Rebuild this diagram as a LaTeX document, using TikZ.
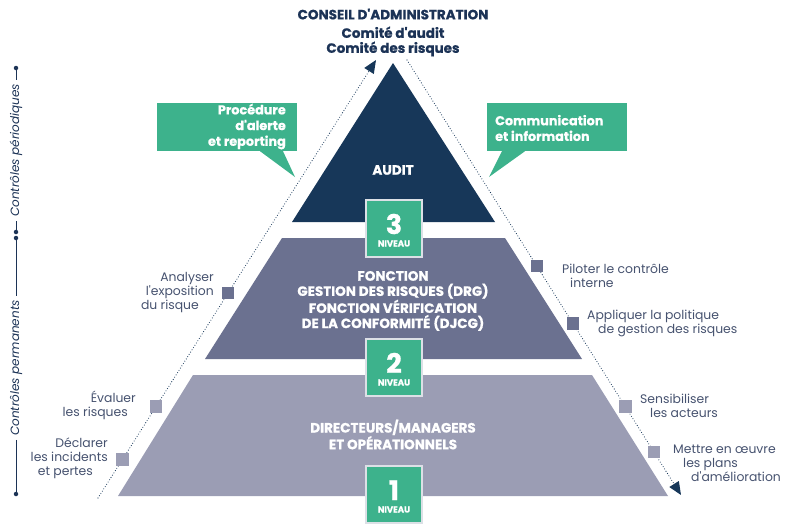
\documentclass[tikz,border=0pt]{standalone}
\usepackage{fontspec}
\setmainfont{Poppins}[BoldFeatures={FakeBold=0.8}]
\usetikzlibrary{arrows.meta}

\definecolor{navy}{HTML}{173759}
\definecolor{titlenavy}{HTML}{1C3356}
\definecolor{slate}{HTML}{6B7190}
\definecolor{lilac}{HTML}{9B9DB4}
\definecolor{jade}{HTML}{3DB28C}
\definecolor{labelgray}{HTML}{46526F}
\definecolor{boxedge}{HTML}{DCE0E6}

% straight apostrophe
\newcommand{\apos}{\textquotesingle}

\begin{document}
\begin{tikzpicture}[x=1pt,y=-1pt,
  title/.style={font=\fontsize{13.5}{15}\selectfont\bfseries, text=titlenavy, align=center, inner sep=0pt},
  tiertext/.style={font=\fontsize{13.5}{15.2}\selectfont\bfseries, text=white, align=center, inner sep=0pt},
  bubble/.style={fill=jade, minimum width=140pt, minimum height=48pt, inner sep=0pt},
  bubbletext/.style={font=\fontsize{12.8}{15.7}\selectfont\bfseries, text=white, inner sep=0pt},
  levelbox/.style={fill=jade, draw=boxedge, line width=1.2pt, minimum width=56pt, minimum height=57pt, inner sep=0pt},
  levelnum/.style={font=\fontsize{27}{27}\selectfont\bfseries, text=white, inner sep=0pt, text height=19pt, text depth=0pt},
  levelword/.style={font=\fontsize{8.6}{9}\selectfont\bfseries, text=white, inner sep=0pt, text height=6pt, text depth=0pt},
  conn/.style={draw=navy, line width=1.1pt, line cap=round, dash pattern=on 0pt off 2.7pt,
    -{Triangle[length=13pt,width=11pt]}},
  darkmark/.style={fill=slate, minimum size=12.5pt, inner sep=0pt},
  lightmark/.style={fill=lilac, minimum size=12.5pt, inner sep=0pt},
  steplabel/.style={font=\fontsize{12.4}{14}\selectfont, text=labelgray, inner sep=0pt},
  axistext/.style={font=\fontsize{12}{12}\selectfont\itshape, text=titlenavy, rotate=90, inner sep=4pt},
  axisline/.style={draw=titlenavy, line width=1pt},
  axisdot/.style={fill=titlenavy, circle, minimum size=4.5pt, inner sep=0pt}
]
\useasboundingbox (0,0) rectangle (795,523);

% --- pyramid tiers ---
\fill[navy]  (292,222) -- (393,63) -- (495,222) -- cycle;
\fill[slate] (282,238) -- (505,238) -- (582,359) -- (205,359) -- cycle;
\fill[lilac] (193,375) -- (592,375) -- (668,496) -- (118,496) -- cycle;

\node[tiertext] (audit) at (393,170) {AUDIT};
\node[tiertext] (drg) at (393,301) {FONCTION\\GESTION DES RISQUES (DRG)\\FONCTION VÉRIFICATION\\DE LA CONFORMITÉ (DJCG)};
\node[tiertext] (ops) at (393,434.5) {DIRECTEURS/MANAGERS\\ET OPÉRATIONNELS};

% --- level badges: digit over the word NIVEAU ---
\node[levelbox] (lv3) at (394,228.5) {};
\node[levelnum]  (lv3n) at (394,224.5) {3};
\node[levelword] (lv3w) at (394,243.5) {NIVEAU};
\node[levelbox] (lv2) at (394,367.5) {};
\node[levelnum]  (lv2n) at (394,363.5) {2};
\node[levelword] (lv2w) at (394,382.5) {NIVEAU};
\node[levelbox] (lv1) at (394,494.5) {};
\node[levelnum]  (lv1n) at (394,490.5) {1};
\node[levelword] (lv1w) at (394,509.5) {NIVEAU};

% --- governance titles ---
\node[title] (ca) at (393,14) {CONSEIL D\apos ADMINISTRATION};
\node[title] (comites) at (393,41.5) {Comité d\apos audit\\Comité des risques};

% --- upward and downward flows ---
\coordinate (lb) at (98,498);
\coordinate (lt) at (376,60);
\coordinate (rt) at (407,60);
\coordinate (rb) at (681,495);
\draw[conn] (lb) -- (lt);
\draw[conn] (rt) -- (rb);

\path (lb) -- (lt)
  node[darkmark, pos=0.468] (sq-analyser) {}
  node[lightmark, pos=0.209] (sq-evaluer) {}
  node[lightmark, pos=0.088] (sq-declarer) {};
\path (rt) -- (rb)
  node[darkmark, pos=0.4736] (sq-piloter) {}
  node[darkmark, pos=0.6057] (sq-appliquer) {}
  node[lightmark, pos=0.7966] (sq-sensibiliser) {}
  node[lightmark, pos=0.9011] (sq-mettre) {};

% --- step labels ---
\node[steplabel, anchor=east, align=right] (t-analyser) at (214,293)
  {Analyser\\l\apos exposition\hspace*{7pt}\\du risque\hspace*{15pt}};
\node[steplabel, anchor=east, align=right] (t-evaluer) at (136,405)
  {Évaluer\\les risques\hspace*{8pt}};
\node[steplabel, anchor=east, align=right] (t-declarer) at (108,458)
  {Déclarer\\les incidents\hspace*{7pt}\\et pertes\hspace*{15pt}};
\node[steplabel, anchor=west, align=left] (t-piloter) at (562,275.5)
  {Piloter le contrôle\\\hspace*{8pt}interne};
\node[steplabel, anchor=west, align=left] (t-appliquer) at (587,323)
  {Appliquer la politique\\\hspace*{11pt}de gestion des risques};
\node[steplabel, anchor=west, align=left] (t-sensibiliser) at (640,405.5)
  {Sensibiliser\\\hspace*{10pt}les acteurs};
\node[steplabel, anchor=west, align=left] (t-mettre) at (673,463)
  {Mettre en œuvre\\\hspace*{10pt}les plans\\\hspace*{18pt}d\apos amélioration};

% --- speech bubbles ---
\node[bubble] (alerte) at (227,127) {};
\fill[jade] ([xshift=33pt]alerte.south) -- ([xshift=56pt]alerte.south) -- (295,177) -- cycle;
\node[bubbletext, anchor=east, align=right] (alerte-t) at (286,126.5) {Procédure\\d\apos alerte\\et reporting};

\node[bubble] (comm) at (557,127) {};
\fill[jade] ([xshift=-55pt]comm.south) -- ([xshift=-32pt]comm.south) -- (489,177) -- cycle;
\node[bubbletext, anchor=west, align=left] (comm-t) at (495,128) {Communication\\et information};

% --- control periods axis ---
\node[axistext] (periodic) at (16,150.5) {Contrôles périodiques};
\node[axistext] (permanent) at (16,368) {Contrôles permanents};
\node[axisdot] (d1) at (16,68) {};
\node[axisdot] (d2) at (16,232) {};
\node[axisdot] (d3) at (16,238) {};
\node[axisdot] (d4) at (16,494) {};
\draw[axisline] (d1.center) -- (periodic.east);
\draw[axisline] (periodic.west) -- (d2.center);
\draw[axisline] (d3.center) -- (permanent.east);
\draw[axisline] (permanent.west) -- (d4.center);
\end{tikzpicture}
\end{document}
